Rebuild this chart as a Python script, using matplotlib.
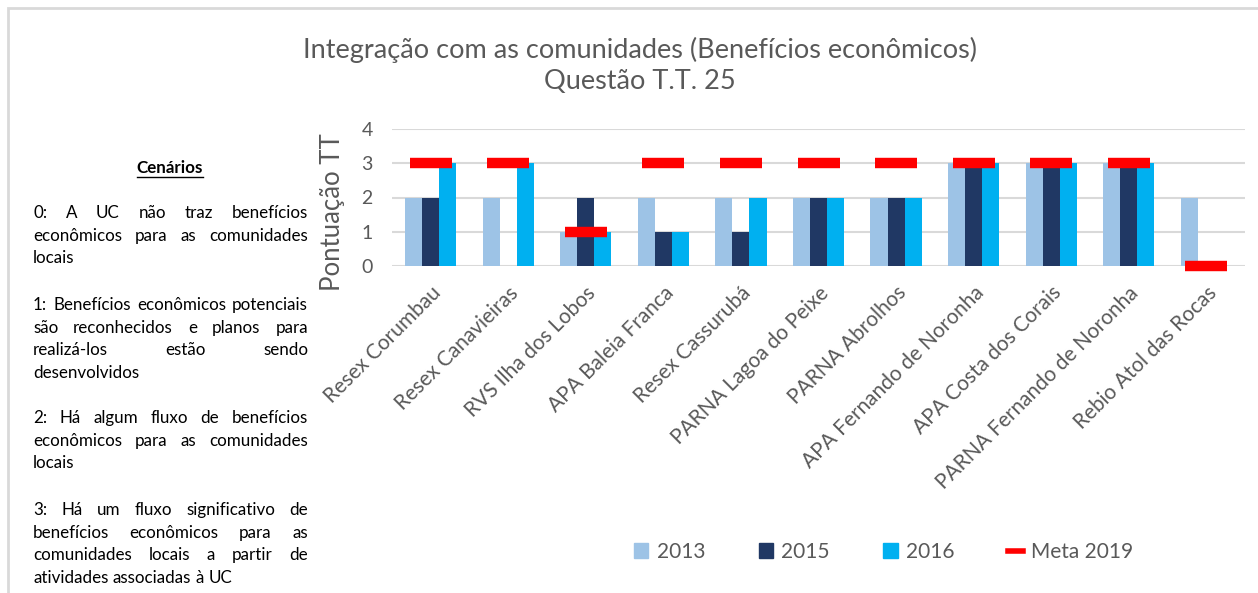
import numpy as np
import matplotlib
matplotlib.use('Agg')
import matplotlib.pyplot as plt
from matplotlib.patches import Patch, Rectangle
from matplotlib.lines import Line2D

plt.rcParams['font.family'] = ['Lato', 'DejaVu Sans']

# Data
categories = ['Resex Corumbau', 'Resex Canavieiras', 'RVS Ilha dos Lobos',
              'APA Baleia Franca', 'Resex Cassurubá', 'PARNA Lagoa do Peixe',
              'PARNA Abrolhos', 'APA Fernando de Noronha', 'APA Costa dos Corais',
              'PARNA Fernando de Noronha', 'Rebio Atol das Rocas']
v2013 = [2, 2, 1, 2, 2, 2, 2, 3, 3, 3, 2]
v2015 = [2, 0, 2, 1, 1, 2, 2, 3, 3, 3, 0]
v2016 = [3, 3, 1, 1, 2, 2, 2, 3, 3, 3, 0]
meta2019 = [3, 3, 1, 3, 3, 3, 3, 3, 3, 3, 0]
series_labels = ['2013', '2015', '2016', 'Meta 2019']

title = 'Integração com as comunidades (Benefícios econômicos)\nQuestão T.T. 25'
ylabel = 'Pontuação TT'

side_title = 'Cenários'
# each paragraph: list of lines as they break in the original box
paragraphs = [
    ['0: A UC não traz benefícios', 'econômicos para as comunidades', 'locais'],
    ['1: Benefícios econômicos potenciais', 'são reconhecidos e planos para',
     'realizá-los estão sendo', 'desenvolvidos'],
    ['2: Há algum fluxo de benefícios', 'econômicos para as comunidades', 'locais'],
    ['3: Há um fluxo significativo de', 'benefícios econômicos para as',
     'comunidades locais a partir de', 'atividades associadas à UC'],
]

c2013 = '#9DC3E6'
c2015 = '#203864'
c2016 = '#00B0F0'
cmeta = '#FF0000'
gray_txt = '#595959'
grid_c = '#D9D9D9'

W, H = 1258, 593
fig = plt.figure(figsize=(W / 100, H / 100), dpi=100)

# outer chart frame (cropped at right and bottom)
fig.patches.append(Rectangle((8 / W, -0.1), 1.2, 1 - 8 / H + 0.1, transform=fig.transFigure,
                             fill=False, edgecolor=grid_c, linewidth=2))

ax = fig.add_axes([392 / W, 1 - 266 / H, (1245 - 392) / W, (266 - 129) / H])
x = np.arange(len(categories))
bw = 0.22
ax.bar(x - bw, v2013, bw, color=c2013, zorder=2)
ax.bar(x, v2015, bw, color=c2015, zorder=2)
ax.bar(x + bw, v2016, bw, color=c2016, zorder=2)
ax.plot(x, meta2019, linestyle='none', marker='_', markersize=30, markeredgewidth=7.5,
        color=cmeta, zorder=3, clip_on=False)

ax.set_xlim(-0.5, len(categories) - 0.5)
ax.set_ylim(0, 4)
ax.set_yticks(range(5))
ax.yaxis.grid(True, color=grid_c, linewidth=1.5, zorder=0)
for s in ax.spines.values():
    s.set_visible(False)
ax.tick_params(axis='both', length=0, colors=gray_txt)
ax.tick_params(axis='y', labelsize=14, pad=14)
ax.set_xticks(x)
ax.set_xticklabels(categories, rotation=45, ha='right', va='top', rotation_mode='anchor',
                   fontsize=15, color=gray_txt)
ax.tick_params(axis='x', pad=12)
ax.set_ylabel(ylabel, fontsize=18.5, color=gray_txt)
ax.yaxis.set_label_coords(-0.055, 0.39)

fig.text(640 / W, 1 - 65 / H, title, ha='center', va='center', fontsize=19.5,
         color=gray_txt, linespacing=1.3)

handles = [Patch(color=c2013), Patch(color=c2015), Patch(color=c2016),
           Line2D([0], [0], color=cmeta, linewidth=4)]
fig.legend(handles, series_labels, loc='center left', bbox_to_anchor=(615 / W, 1 - 552 / H),
           ncol=4, frameon=False, fontsize=15, handlelength=0.7, handleheight=0.7,
           handletextpad=0.4, columnspacing=2.56, labelcolor=gray_txt)

# Side text box with justified paragraphs
renderer = fig.canvas.get_renderer()
left, right = 33, 308
line_h = 22.7
para_starts = [213, 305, 418, 510]


def text_w(s, size, **kw):
    t = fig.text(0, 0, s, fontsize=size, **kw)
    w = t.get_window_extent(renderer).width
    t.remove()
    return w


# font size chosen so the fullest line just fits the box width
fs = 11.3 * (right - left) / text_w(paragraphs[1][0], 11.3) * 0.985

ct = fig.text(170 / W, 1 - 168 / H, side_title, ha='center', va='center', fontsize=fs,
              fontweight='bold', color='black')
bb = ct.get_window_extent(renderer)
fig.add_artist(Line2D([bb.x0 / W, bb.x1 / W], [(bb.y0 - 1) / H, (bb.y0 - 1) / H],
                      color='black', linewidth=1))

space = text_w('a b', fs) - text_w('ab', fs)
for y0, lines in zip(para_starts, paragraphs):
    for i, line in enumerate(lines):
        yy = 1 - (y0 + i * line_h) / H
        words = line.split(' ')
        last = i == len(lines) - 1
        widths = [text_w(w, fs) for w in words]
        if last or len(words) == 1:
            gap = space
        else:
            gap = (right - left - sum(widths)) / (len(words) - 1)
        xx = left
        for w, ww in zip(words, widths):
            fig.text(xx / W, yy, w, ha='left', va='center', fontsize=fs, color='black')
            xx += ww + gap

fig.savefig('out.png', dpi=100)
